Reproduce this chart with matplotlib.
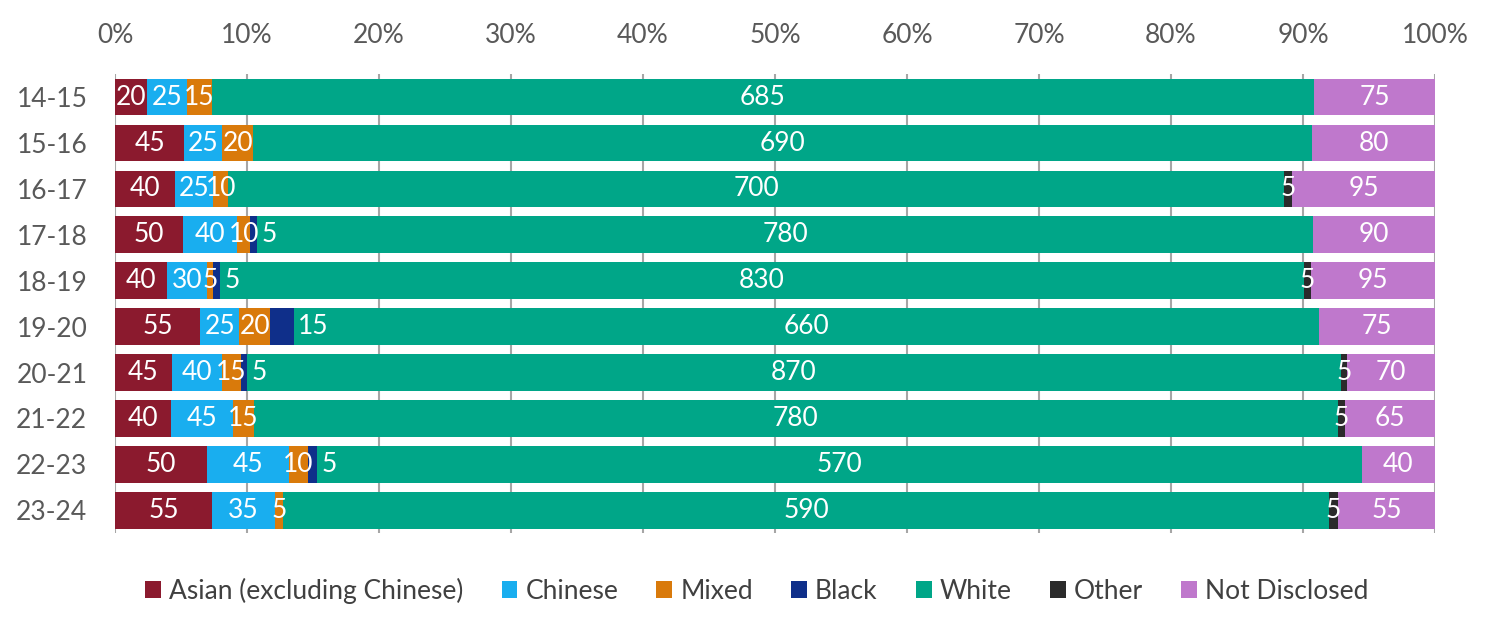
import matplotlib.pyplot as plt
import numpy as np
from matplotlib.ticker import PercentFormatter

plt.rcParams['font.family'] = ['Lato', 'DejaVu Sans']

years = ["14-15", "15-16", "16-17", "17-18", "18-19",
         "19-20", "20-21", "21-22", "22-23", "23-24"]

series = ["Asian (excluding Chinese)", "Chinese", "Mixed", "Black",
          "White", "Other", "Not Disclosed"]

asian = [20, 45, 40, 50, 40, 55, 45, 40, 50, 55]
chinese = [25, 25, 25, 40, 30, 25, 40, 45, 45, 35]
mixed = [15, 20, 10, 10, 5, 20, 15, 15, 10, 5]
black = [0, 0, 0, 5, 5, 15, 5, 0, 5, 0]
white = [685, 690, 700, 780, 830, 660, 870, 780, 570, 590]
other = [0, 0, 5, 0, 5, 0, 5, 5, 0, 5]
not_disclosed = [75, 80, 95, 90, 95, 75, 70, 65, 40, 55]

colours = ["#8B1A2E", "#19AEEF", "#D97A0B", "#0F2F8A",
           "#00A688", "#2B2B2B", "#BF78CC"]

counts = np.array([asian, chinese, mixed, black, white, other, not_disclosed], dtype=float)
shares = counts / counts.sum(axis=0) * 100

fs = 19

fig = plt.figure(figsize=(15, 6.34), dpi=100)
ax = fig.add_axes([0.0767, 0.159, 0.88, 0.724])

y = np.arange(len(years))
left = np.zeros(len(years))
for i, name in enumerate(series):
    ax.barh(y, shares[i], left=left, height=0.8, color=colours[i],
            label=name, zorder=2)
    for j in range(len(years)):
        if counts[i, j] == 0:
            continue
        if name == "Black":
            # labels for the thin black segments sit just past the bar
            ax.text(left[j] + shares[i, j] + 0.35, y[j], f"{counts[i, j]:.0f}",
                    ha='left', va='center', color='white', fontsize=fs, zorder=3)
        else:
            ax.text(left[j] + shares[i, j] / 2, y[j], f"{counts[i, j]:.0f}",
                    ha='center', va='center', color='white', fontsize=fs, zorder=3)
    left += shares[i]

ax.set_xlim(0, 100)
ax.set_ylim(len(years) - 0.5, -0.5)
ax.set_yticks(y)
ax.set_yticklabels(years)
ax.set_xticks(np.arange(0, 101, 10))
ax.xaxis.set_major_formatter(PercentFormatter(decimals=0))
ax.xaxis.tick_top()
ax.tick_params(axis='both', length=0, labelsize=fs, colors='#595959')
ax.tick_params(axis='y', pad=20)
ax.tick_params(axis='x', pad=19)
for s in ax.spines.values():
    s.set_visible(False)
ax.grid(axis='x', color='#A6A6A6', linewidth=1.5, zorder=0)
ax.set_axisbelow(True)

ax.legend(loc='upper center', bbox_to_anchor=(0.486, -0.045), ncol=7, frameon=False,
          fontsize=fs, handlelength=0.6, handleheight=0.6, handletextpad=0.3,
          columnspacing=1.45, labelcolor='#404040')

fig.savefig("out.png", dpi=100)
